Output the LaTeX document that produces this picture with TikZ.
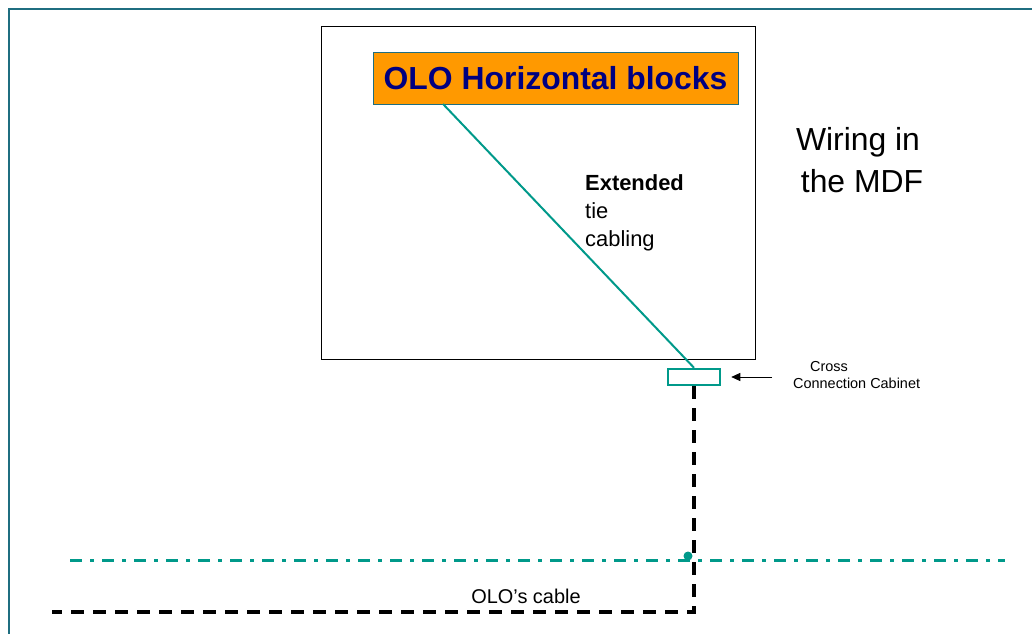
\documentclass[tikz,border=0pt]{standalone}
\usepackage{fontspec}
\setmainfont{Liberation Sans}
\usetikzlibrary{arrows.meta}
\definecolor{frameteal}{HTML}{1F6E80}
\definecolor{wireteal}{HTML}{00998A}
\definecolor{blockorange}{HTML}{FF9900}
\definecolor{textnavy}{HTML}{000080}
\begin{document}
\begin{tikzpicture}[x=1bp,y=-1bp,
    olocable/.style={line width=3.5bp,dash pattern=on 13bp off 9bp},
    boundary/.style={wireteal,line width=3bp,dash pattern=on 12bp off 8bp on 4bp off 8bp}]
  \useasboundingbox (0,0) rectangle (1032,634);
  \draw[frameteal,line width=2bp] (9,634) -- (9,9) -- (1032,9);
  \draw[line width=1bp] (321,27) rectangle (755,359);
  \node[draw=frameteal,fill=blockorange,minimum width=365bp,minimum height=52bp,
        inner sep=0pt,font=\fontsize{32}{36}\selectfont\bfseries,text=textnavy]
        (blocks) at (555.5,78) {\raisebox{-3bp}{OLO Horizontal blocks}};
  \node[draw=wireteal,line width=2.5bp,fill=white,minimum width=52bp,minimum height=16bp,
        inner sep=0pt] (cabinet) at (694,377) {};
  \draw[wireteal,line width=2bp] (443,104) -- (cabinet.north);
  \node[align=left,anchor=north west,inner sep=0pt,font=\fontsize{22}{28.5}\selectfont]
        (tie) at (585,174) {\textbf{Extended}\\tie\\cabling};
  \node[align=center,inner sep=0pt,font=\fontsize{32}{42}\selectfont]
        (mdf) at (862,160) {Wiring in\hspace*{8bp}\\the MDF};
  \node[align=left,anchor=west,inner sep=0pt,font=\fontsize{14.5}{17}\selectfont]
        (cross) at (793,375) {\hspace*{17bp}Cross\\Connection Cabinet};
  \coordinate (arrowtail) at (772,377);
  \draw[-{Triangle[length=9bp,width=8bp]},line width=0.8bp] (arrowtail) -- ([xshift=10bp]cabinet.east);
  \draw[boundary] (70,560) coordinate (bleft) -- (1005,560) coordinate (bright);
  \coordinate (corner) at (694,612);
  \coordinate (cableend) at (52,612);
  \draw[olocable] (cabinet.south) -- (corner) -- (cableend);
  \fill[wireteal] (688,556) circle (4.5bp) node (join) {};
  \node[font=\fontsize{20}{24}\selectfont] (cable) at (526,596) {OLO’s cable};
\end{tikzpicture}
\end{document}
